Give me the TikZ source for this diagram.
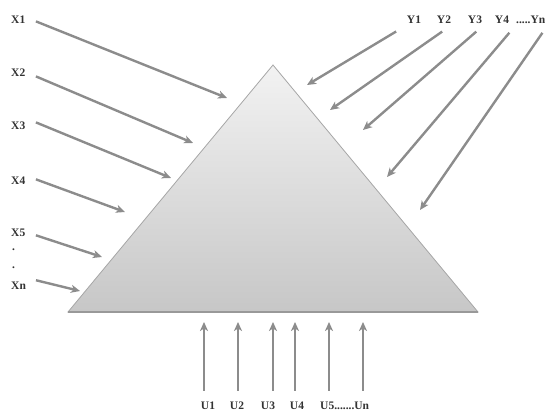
\documentclass[tikz,border=0pt]{standalone}
\usepackage{fontspec}
\setmainfont{Liberation Serif}
\usetikzlibrary{arrows.meta}
\begin{document}
\begin{tikzpicture}[x=1pt,y=-1pt,
  lbl/.style={font=\bfseries\fontsize{11.5}{12}\selectfont, text=black!80, inner sep=0pt},
  arr/.style={draw=black!45, line width=2.4pt, -{Stealth[length=9pt,width=8pt,inset=2.5pt]}, shorten <=1pt},
  tri/.style={draw=black!35, line width=0.8pt, top color=black!5, bottom color=black!22}
]
\useasboundingbox (0,0) rectangle (550,414);
% triangle
\coordinate (apex) at (273,65);
\coordinate (bl) at (68,312);
\coordinate (br) at (478,312);
\path[tri] (apex) -- (br) -- (bl) -- cycle;
\draw[black!40, line width=2pt] (bl) -- (br);

% X inputs
\node[lbl, anchor=west] (x1) at (11,20) {X1};
\node[lbl, anchor=west] (x2) at (11,73) {X2};
\node[lbl, anchor=west] (x3) at (11,126) {X3};
\node[lbl, anchor=west] (x4) at (11,181) {X4};
\node[lbl, anchor=west] (x5) at (11,233) {X5};
\node[lbl, anchor=west] (d1) at (12,250) {.};
\node[lbl, anchor=west] (d2) at (12,268) {.};
\node[lbl, anchor=west] (xn) at (11,286) {Xn};
\coordinate (sx1) at (35,21);
\coordinate (sx2) at (35,76);
\coordinate (sx3) at (35,122);
\coordinate (sx4) at (35,179);
\coordinate (sx5) at (35,235);
\coordinate (sxn) at (35,280);
\coordinate (tx1) at (227,98);
\coordinate (tx2) at (193,143);
\coordinate (tx3) at (171,178);
\coordinate (tx4) at (125,212);
\coordinate (tx5) at (102,257);
\coordinate (txn) at (80,291);
\draw[arr] (sx1) -- (tx1);
\draw[arr] (sx2) -- (tx2);
\draw[arr] (sx3) -- (tx3);
\draw[arr] (sx4) -- (tx4);
\draw[arr] (sx5) -- (tx5);
\draw[arr] (sxn) -- (txn);

% Y outputs
\node[lbl] (y1) at (414,20) {Y1};
\node[lbl] (y2) at (444,20) {Y2};
\node[lbl] (y3) at (475,20) {Y3};
\node[lbl] (y4) at (502,20) {Y4};
\node[lbl, anchor=west] (yn) at (516,20) {.....Yn};
\coordinate (sy1) at (397,31);
\coordinate (sy2) at (443,31);
\coordinate (sy3) at (477,31);
\coordinate (sy4) at (510,32);
\coordinate (syn) at (543,32);
\coordinate (ty1) at (307,85);
\coordinate (ty2) at (330,110);
\coordinate (ty3) at (363,130);
\coordinate (ty4) at (387,177);
\coordinate (tyn) at (420,210);
\draw[arr] (sy1) -- (ty1);
\draw[arr] (sy2) -- (ty2);
\draw[arr] (sy3) -- (ty3);
\draw[arr] (sy4) -- (ty4);
\draw[arr] (syn) -- (tyn);

% U inputs
\node[lbl] (u1) at (208,406) {U1};
\node[lbl] (u2) at (237,406) {U2};
\node[lbl] (u3) at (268,406) {U3};
\node[lbl] (u4) at (297,406) {U4};
\node[lbl, anchor=west] (u5) at (320,406) {U5.......Un};
\foreach \n/\x in {1/204,2/238,3/273,4/295,5/329,6/363}{
  \coordinate (su\n) at (\x,392);
  \coordinate (tu\n) at (\x,322);
  \draw[arr] (su\n) -- (tu\n);
}
\end{tikzpicture}
\end{document}
